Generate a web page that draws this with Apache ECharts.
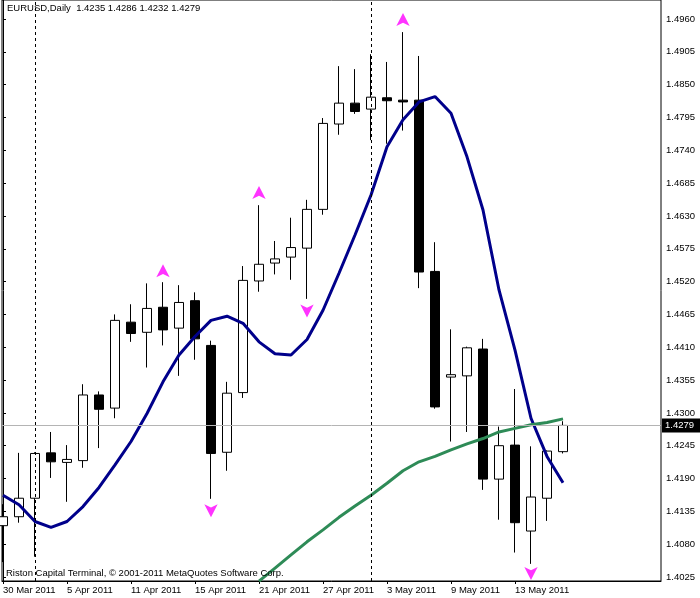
<!DOCTYPE html>
<html><head><meta charset="utf-8">
<script src="https://cdn.jsdelivr.net/npm/echarts@6/dist/echarts.min.js"></script>
<style>html,body{margin:0;padding:0;background:#fff}#c{width:700px;height:598px}</style>
</head><body><div id="c"></div>
<script>
const symbolName = 'EURUSD,Daily';
const dates = ['30 Mar 2011','31 Mar 2011','1 Apr 2011','4 Apr 2011','5 Apr 2011','6 Apr 2011','7 Apr 2011','8 Apr 2011','11 Apr 2011','12 Apr 2011','13 Apr 2011','14 Apr 2011','15 Apr 2011','18 Apr 2011','19 Apr 2011','20 Apr 2011','21 Apr 2011','22 Apr 2011','25 Apr 2011','26 Apr 2011','27 Apr 2011','28 Apr 2011','29 Apr 2011','2 May 2011','3 May 2011','4 May 2011','5 May 2011','6 May 2011','9 May 2011','10 May 2011','11 May 2011','12 May 2011','13 May 2011','16 May 2011','17 May 2011','18 May 2011'];
const open  = [1.4111,1.4126,1.4157,1.4233,1.4217,1.4220,1.4330,1.4308,1.4452,1.4435,1.4477,1.4442,1.4488,1.4413,1.4234,1.4334,1.4521,1.4551,1.4561,1.4576,1.4641,1.4784,1.4819,1.4809,1.4828,1.4824,1.4824,1.4537,1.4360,1.4362,1.4407,1.4189,1.4246,1.4102,1.4157,1.4235];
const close = [1.4126,1.4157,1.4232,1.4218,1.4222,1.4330,1.4306,1.4455,1.4433,1.4475,1.4439,1.4485,1.4424,1.4232,1.4333,1.4522,1.4549,1.4558,1.4577,1.4641,1.4785,1.4819,1.4805,1.4829,1.4823,1.4821,1.4536,1.4310,1.4364,1.4409,1.4189,1.4245,1.4116,1.4159,1.4236,1.4279];
const low   = [1.4050,1.4116,1.4059,1.4191,1.4151,1.4208,1.4241,1.4291,1.4419,1.4376,1.4413,1.4362,1.4389,1.4156,1.4203,1.4325,1.4503,1.4532,1.4523,1.4491,1.4632,1.4766,1.4801,1.4757,1.4751,1.4773,1.4509,1.4307,1.4252,1.4268,1.4171,1.4121,1.4066,1.4047,1.4119,1.4232];
const high  = [1.4147,1.4233,1.4234,1.4268,1.4246,1.4348,1.4336,1.4465,1.4482,1.4517,1.4519,1.4514,1.4502,1.4421,1.4352,1.4546,1.4648,1.4588,1.4627,1.4657,1.4794,1.4881,1.4876,1.4901,1.4888,1.4938,1.4898,1.4586,1.4440,1.4411,1.4424,1.4277,1.4340,1.4244,1.4237,1.4286];
const blueLine = [1.4162,1.4146,1.4118,1.4108,1.4118,1.4143,1.4175,1.4213,1.4252,1.4299,1.4352,1.4397,1.4428,1.4455,1.4462,1.4450,1.4419,1.4399,1.4397,1.4423,1.4472,1.4534,1.4598,1.4665,1.4746,1.4791,1.4821,1.4830,1.4802,1.4729,1.4640,1.4506,1.4405,1.4291,1.4227,1.4183];
const greenStart = 16;
const greenLine = [1.4018,1.4040,1.4062,1.4084,1.4104,1.4125,1.4144,1.4162,1.4182,1.4203,1.4218,1.4227,1.4238,1.4248,1.4257,1.4268,1.4274,1.4280,1.4284,1.4290];
const upArrowIdx = [10,16,25];
const upArrowVal = [1.4549,1.4680,1.4970];
const downArrowIdx = [13,19,33];
const downArrowVal = [1.4125,1.4460,1.4020];
const separatorIdx = [2,23];
const yTicks = [1.4025,1.4080,1.4135,1.4190,1.4245,1.4300,1.4355,1.4410,1.4465,1.4520,1.4575,1.4630,1.4685,1.4740,1.4795,1.4850,1.4905,1.4960];
const xTickIdx = [0,4,8,12,16,20,24,28,32];
const yMin = 1.40183, yMax = 1.49918;
const xMin = -0.0625, xMax = 41.125;

const last = dates.length - 1;
const FONT = '"Liberation Sans", Arial, sans-serif';
const FS = 9.5;
const candleData = dates.map((d,i)=>[i, open[i], close[i], low[i], high[i]]);
const blueData = blueLine.map((v,i)=>[i,v]);
const greenData = greenLine.map((v,i)=>[greenStart+i,v]);
const upData = upArrowIdx.map((x,i)=>[x, upArrowVal[i]]);
const downData = downArrowIdx.map((x,i)=>[x, downArrowVal[i]]);

const chart = echarts.init(document.getElementById('c'), null, {renderer:'canvas'});
chart.setOption({
  animation:false,
  backgroundColor:'#ffffff',
  textStyle:{fontFamily:FONT},
  title:[
    {text: symbolName + '  ' + [open[last],high[last],low[last],close[last]].map(v=>v.toFixed(4)).join(' '),
     left:7, top:3, padding:0, textStyle:{fontSize:FS, fontWeight:'normal', color:'#000', fontFamily:FONT}},
    {text:'Riston Capital Terminal, \u00a9 2001-2011 MetaQuotes Software Corp.',
     left:6, top:568, padding:0, textStyle:{fontSize:FS, fontWeight:'normal', color:'#000', fontFamily:FONT}}
  ],
  grid:{left:2, right:39, top:0, bottom:17, show:true, borderColor:'#000', borderWidth:1, backgroundColor:'transparent'},
  xAxis:{type:'value', min:xMin, max:xMax, splitLine:{show:false},
    axisLine:{show:true, onZero:false, lineStyle:{color:'#000', width:1}},
    axisTick:{show:true, customValues:xTickIdx, length:3, lineStyle:{color:'#000'}},
    axisLabel:{customValues:xTickIdx, formatter:v=>dates[Math.round(v)]||'', align:'left', color:'#000', fontSize:FS, margin:4, fontFamily:FONT}},
  yAxis:{type:'value', position:'right', min:yMin, max:yMax, splitLine:{show:false},
    axisLine:{show:true, lineStyle:{color:'#000', width:1}},
    axisTick:{show:true, customValues:yTicks, length:3, lineStyle:{color:'#000'}},
    axisLabel:{customValues:yTicks, formatter:v=>v.toFixed(4), color:'#000', fontSize:FS, margin:5, fontFamily:FONT}},
  series:[
    {type:'candlestick', data:candleData, encode:{x:0, y:[1,2,3,4]}, barWidth:10, clip:true,
     itemStyle:{color:'#ffffff', color0:'#000000', borderColor:'#000000', borderColor0:'#000000', borderWidth:1},
     markLine:{silent:true, symbol:['none','none'], animation:false, precision:4,
       data: separatorIdx.map(x=>({xAxis:x, lineStyle:{type:[3,3], color:'#000', width:1}, label:{show:false}}))}},
    {type:'line', data:blueData, showSymbol:false, symbol:'none', lineStyle:{color:'#00008b', width:3}, z:3, clip:true,
     markLine:{silent:true, symbol:['none','none'], animation:false, precision:4,
       data:[{yAxis:close[last], lineStyle:{type:'solid', color:'#b4b4b4', width:1},
          label:{show:true, position:'end', formatter:close[last].toFixed(4), color:'#fff', backgroundColor:'#000', padding:[2,6,2,3], distance:1, fontSize:FS, fontFamily:FONT}}]}},
    {type:'line', data:greenData, showSymbol:false, symbol:'none', lineStyle:{color:'#2e8b57', width:3}, z:3, clip:true},
    {type:'scatter', data:upData, symbol:'arrow', symbolSize:[10,13], itemStyle:{color:'#ff00ff'}, z:4},
    {type:'scatter', data:downData, symbol:'arrow', symbolSize:[10,13], symbolRotate:180, itemStyle:{color:'#ff00ff'}, z:4}
  ]
});
</script></body></html>
